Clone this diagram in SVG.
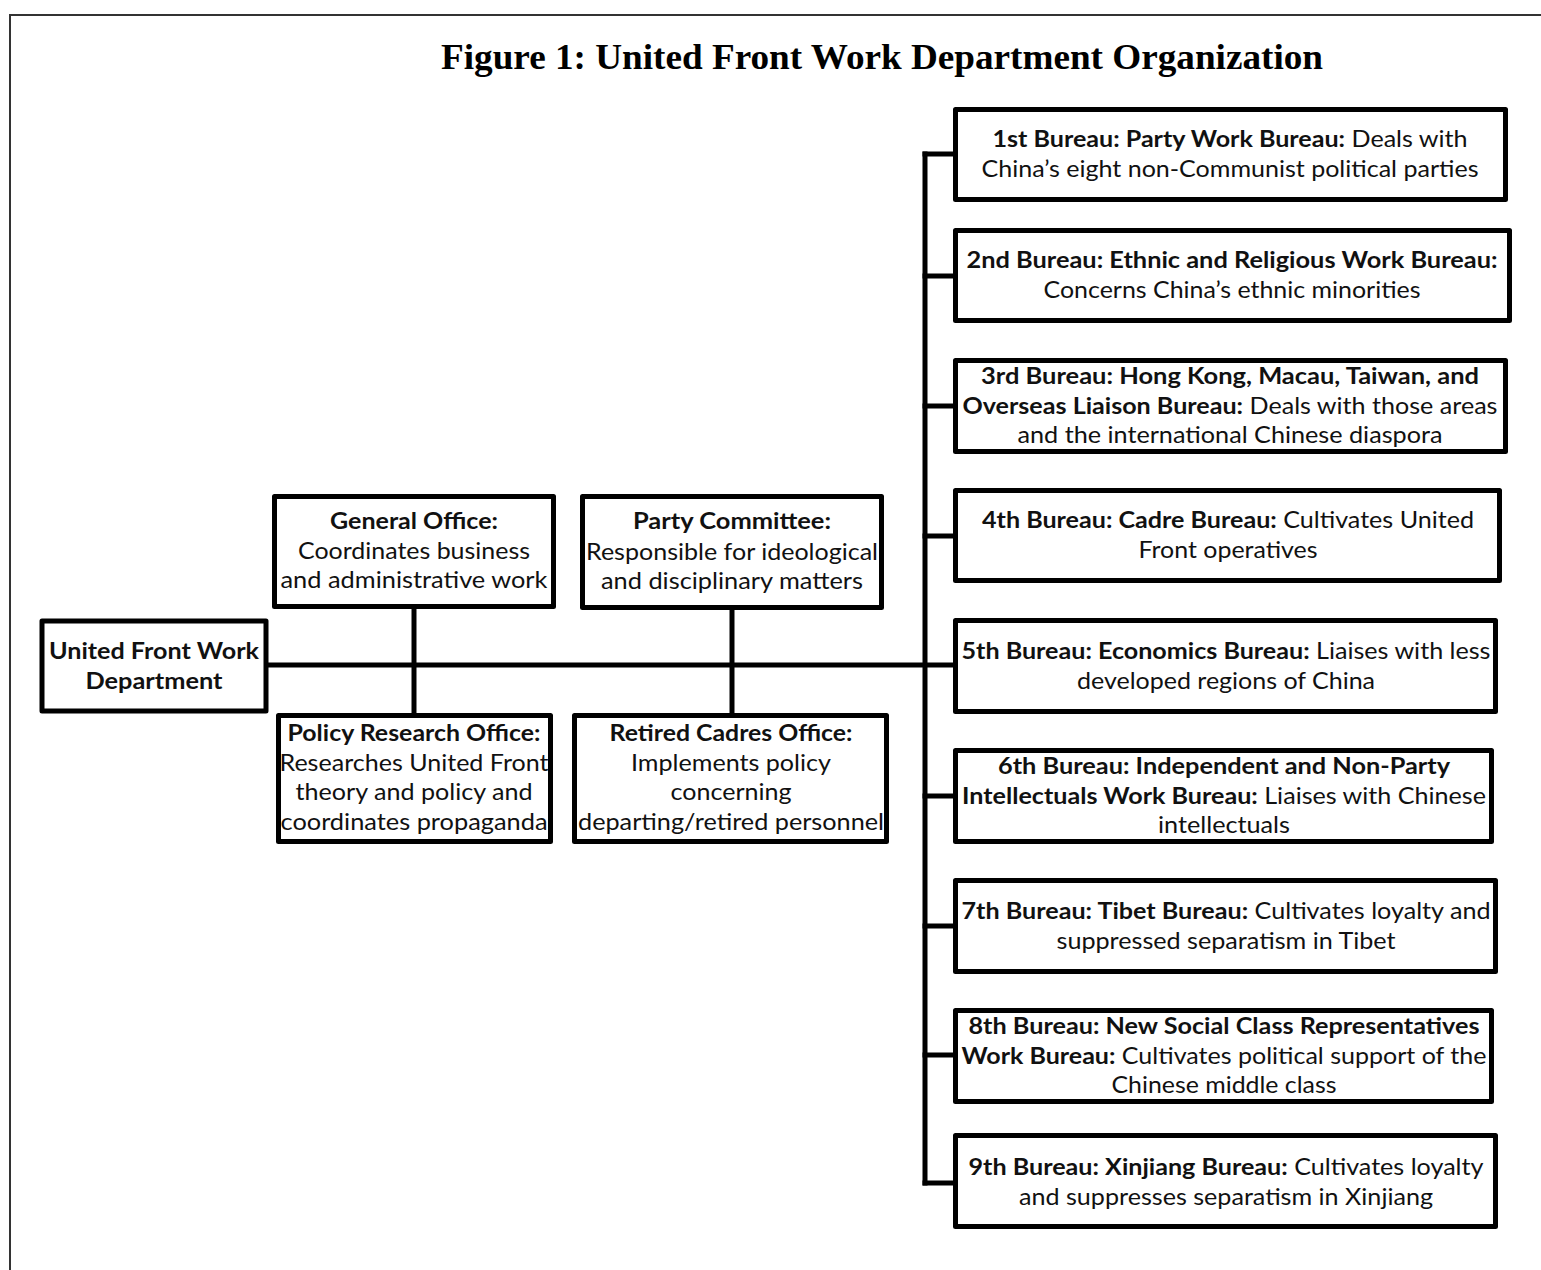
<svg xmlns="http://www.w3.org/2000/svg" width="1541" height="1270" viewBox="0 0 1541 1270">
<style>
.box{fill:#fff;stroke:#000;stroke-width:5;stroke-linejoin:round}
.ln{stroke:#000;stroke-width:5;fill:none;stroke-linecap:square}
.t{font-family:Lato,"Liberation Sans",sans-serif;font-size:23px;fill:#111;text-anchor:middle}
.b{font-weight:bold}
.title{font-family:"Liberation Serif",serif;font-size:36px;font-weight:bold;text-anchor:middle;fill:#000}
</style>
<rect x="10" y="15" width="1600" height="1300" fill="#fff" stroke="#333" stroke-width="2"/>
<text class="title" x="882" y="69" textLength="882" lengthAdjust="spacingAndGlyphs">Figure 1: United Front Work Department Organization</text>
<g id="connectors">
<line class="ln" x1="268" y1="665" x2="953" y2="665"/>
<line class="ln" x1="414" y1="608" x2="414" y2="713"/>
<line class="ln" x1="732" y1="609" x2="732" y2="713"/>
<line class="ln" x1="925" y1="154" x2="925" y2="1183"/>
<line class="ln" x1="925" y1="154" x2="953" y2="154"/>
<line class="ln" x1="925" y1="276" x2="953" y2="276"/>
<line class="ln" x1="925" y1="406" x2="953" y2="406"/>
<line class="ln" x1="925" y1="536" x2="953" y2="536"/>
<line class="ln" x1="925" y1="796" x2="953" y2="796"/>
<line class="ln" x1="925" y1="926" x2="953" y2="926"/>
<line class="ln" x1="925" y1="1055" x2="953" y2="1055"/>
<line class="ln" x1="925" y1="1183" x2="953" y2="1183"/>
</g>
<g id="ufwd">
<rect class="box" x="42" y="621" width="224" height="90"/>
<text class="t b" x="154" y="659" textLength="210" lengthAdjust="spacingAndGlyphs">United Front Work</text>
<text class="t b" x="154" y="689" textLength="137" lengthAdjust="spacingAndGlyphs">Department</text>
</g>
<g id="general-office">
<rect class="box" x="274.5" y="496.5" width="279" height="110"/>
<text class="t b" x="414" y="529" textLength="168" lengthAdjust="spacingAndGlyphs">General Office:</text>
<text class="t" x="414" y="559" textLength="232" lengthAdjust="spacingAndGlyphs">Coordinates business</text>
<text class="t" x="414" y="588" textLength="267" lengthAdjust="spacingAndGlyphs">and administrative work</text>
</g>
<g id="party-committee">
<rect class="box" x="582.5" y="496.5" width="299" height="111"/>
<text class="t b" x="732" y="529" textLength="198" lengthAdjust="spacingAndGlyphs">Party Committee:</text>
<text class="t" x="732" y="560" textLength="292" lengthAdjust="spacingAndGlyphs">Responsible for ideological</text>
<text class="t" x="732" y="589" textLength="262" lengthAdjust="spacingAndGlyphs">and disciplinary matters</text>
</g>
<g id="policy-research">
<rect class="box" x="278.5" y="715.5" width="272" height="126"/>
<text class="t b" x="414" y="741" textLength="253" lengthAdjust="spacingAndGlyphs">Policy Research Office:</text>
<text class="t" x="414" y="771" textLength="269" lengthAdjust="spacingAndGlyphs">Researches United Front</text>
<text class="t" x="414" y="800" textLength="237" lengthAdjust="spacingAndGlyphs">theory and policy and</text>
<text class="t" x="414" y="830" textLength="267" lengthAdjust="spacingAndGlyphs">coordinates propaganda</text>
</g>
<g id="retired-cadres">
<rect class="box" x="574.5" y="715.5" width="312" height="126"/>
<text class="t b" x="731" y="741" textLength="243" lengthAdjust="spacingAndGlyphs">Retired Cadres Office:</text>
<text class="t" x="731" y="771" textLength="200" lengthAdjust="spacingAndGlyphs">Implements policy</text>
<text class="t" x="731" y="800" textLength="121" lengthAdjust="spacingAndGlyphs">concerning</text>
<text class="t" x="731" y="830" textLength="306" lengthAdjust="spacingAndGlyphs">departing/retired personnel</text>
</g>
<g id="bureau-1">
<rect class="box" x="955.5" y="109.5" width="550" height="90"/>
<text class="t" x="1230" y="147" textLength="475" lengthAdjust="spacingAndGlyphs"><tspan class="b">1st Bureau: Party Work Bureau:</tspan> Deals with</text>
<text class="t" x="1230" y="177" textLength="497" lengthAdjust="spacingAndGlyphs">China’s eight non-Communist political parties</text>
</g>
<g id="bureau-2">
<rect class="box" x="955.5" y="230.5" width="554" height="90"/>
<text class="t b" x="1232" y="268" textLength="531" lengthAdjust="spacingAndGlyphs">2nd Bureau: Ethnic and Religious Work Bureau:</text>
<text class="t" x="1232" y="298" textLength="377" lengthAdjust="spacingAndGlyphs">Concerns China’s ethnic minorities</text>
</g>
<g id="bureau-3">
<rect class="box" x="955.5" y="360.5" width="550" height="91"/>
<text class="t b" x="1230" y="384" textLength="498" lengthAdjust="spacingAndGlyphs">3rd Bureau: Hong Kong, Macau, Taiwan, and</text>
<text class="t" x="1230" y="414" textLength="535" lengthAdjust="spacingAndGlyphs"><tspan class="b">Overseas Liaison Bureau:</tspan> Deals with those areas</text>
<text class="t" x="1230" y="443" textLength="425" lengthAdjust="spacingAndGlyphs">and the international Chinese diaspora</text>
</g>
<g id="bureau-4">
<rect class="box" x="955.5" y="490.5" width="544" height="90"/>
<text class="t" x="1228" y="528" textLength="492" lengthAdjust="spacingAndGlyphs"><tspan class="b">4th Bureau: Cadre Bureau:</tspan> Cultivates United</text>
<text class="t" x="1228" y="558" textLength="179" lengthAdjust="spacingAndGlyphs">Front operatives</text>
</g>
<g id="bureau-5">
<rect class="box" x="955.5" y="620.5" width="540" height="91"/>
<text class="t" x="1226" y="659" textLength="529" lengthAdjust="spacingAndGlyphs"><tspan class="b">5th Bureau: Economics Bureau:</tspan> Liaises with less</text>
<text class="t" x="1226" y="689" textLength="298" lengthAdjust="spacingAndGlyphs">developed regions of China</text>
</g>
<g id="bureau-6">
<rect class="box" x="955.5" y="750.5" width="536" height="91"/>
<text class="t b" x="1224" y="774" textLength="452" lengthAdjust="spacingAndGlyphs">6th Bureau: Independent and Non-Party</text>
<text class="t" x="1224" y="804" textLength="524" lengthAdjust="spacingAndGlyphs"><tspan class="b">Intellectuals Work Bureau:</tspan> Liaises with Chinese</text>
<text class="t" x="1224" y="833" textLength="132" lengthAdjust="spacingAndGlyphs">intellectuals</text>
</g>
<g id="bureau-7">
<rect class="box" x="955.5" y="880.5" width="540" height="91"/>
<text class="t" x="1226" y="919" textLength="529" lengthAdjust="spacingAndGlyphs"><tspan class="b">7th Bureau: Tibet Bureau:</tspan> Cultivates loyalty and</text>
<text class="t" x="1226" y="949" textLength="339" lengthAdjust="spacingAndGlyphs">suppressed separatism in Tibet</text>
</g>
<g id="bureau-8">
<rect class="box" x="955.5" y="1010.5" width="536" height="91"/>
<text class="t b" x="1224" y="1034" textLength="511" lengthAdjust="spacingAndGlyphs">8th Bureau: New Social Class Representatives</text>
<text class="t" x="1224" y="1064" textLength="525" lengthAdjust="spacingAndGlyphs"><tspan class="b">Work Bureau:</tspan> Cultivates political support of the</text>
<text class="t" x="1224" y="1093" textLength="225" lengthAdjust="spacingAndGlyphs">Chinese middle class</text>
</g>
<g id="bureau-9">
<rect class="box" x="955.5" y="1135.5" width="540" height="91"/>
<text class="t" x="1226" y="1175" textLength="515" lengthAdjust="spacingAndGlyphs"><tspan class="b">9th Bureau: Xinjiang Bureau:</tspan> Cultivates loyalty</text>
<text class="t" x="1226" y="1205" textLength="414" lengthAdjust="spacingAndGlyphs">and suppresses separatism in Xinjiang</text>
</g>
</svg>
